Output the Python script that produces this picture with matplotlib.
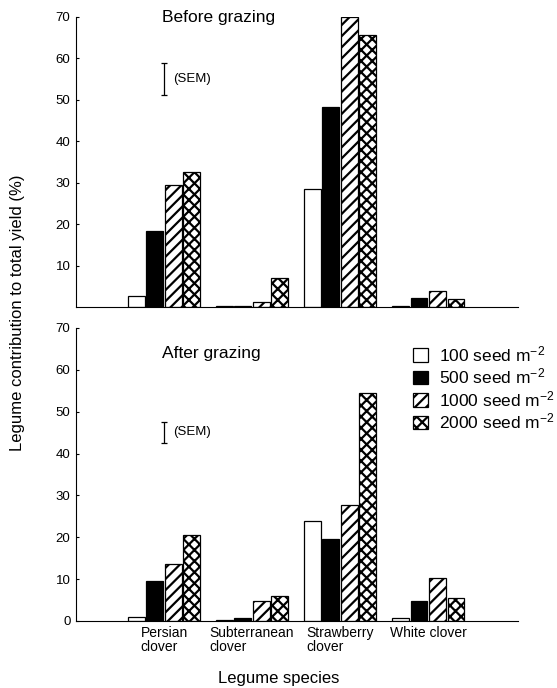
import numpy as np
import matplotlib
matplotlib.use('Agg')
import matplotlib.pyplot as plt

plt.rcParams['font.family'] = ['Liberation Sans', 'DejaVu Sans']
plt.rcParams['mathtext.default'] = 'regular'
plt.rcParams['hatch.linewidth'] = 1.6

species = ['Persian\nclover', 'Subterranean\nclover', 'Strawberry\nclover', 'White clover']
rates = ['100 seed m$^{-2}$', '500 seed m$^{-2}$', '1000 seed m$^{-2}$', '2000 seed m$^{-2}$']

# legume contribution (%) per sowing rate, one list per rate
before_100 = [2.7, 0.2, 28.4, 0.3]
before_500 = [18.4, 0.3, 48.3, 2.1]
before_1000 = [29.4, 1.1, 70.1, 3.9]
before_2000 = [32.5, 7.1, 65.7, 2.0]

after_100 = [0.9, 0.2, 23.8, 0.6]
after_500 = [9.6, 0.8, 19.5, 4.8]
after_1000 = [13.5, 4.8, 27.8, 10.3]
after_2000 = [20.5, 5.9, 54.4, 5.5]

sem_before = (51.2, 58.9)
sem_after = (42.6, 47.6)

colors = ['white', 'black', 'white', 'white']
hatches = [None, None, '///', 'xxx']

fig = plt.figure(figsize=(5.57, 6.88), dpi=100)
ax1 = fig.add_axes([0.1364, 0.5538, 0.7935, 0.4215])
ax2 = fig.add_axes([0.1364, 0.0974, 0.7935, 0.4259])

x = np.arange(len(species))
width = 0.19
step = 0.21

def draw(ax, series, sem, title, title_y):
    for i, vals in enumerate(series):
        ax.bar(x + (i - 1.5) * step, vals, width, color=colors[i], edgecolor='black',
               hatch=hatches[i], linewidth=0.9, label=rates[i])
    ax.set_xlim(-1, 4.02)
    ax.set_ylim(0, 70)
    ax.spines['top'].set_visible(False)
    ax.spines['right'].set_visible(False)
    ax.tick_params(axis='y', direction='in', length=2, labelsize=9.5, pad=4)
    ax.tick_params(axis='x', length=0)
    ax.errorbar([0.0], [np.mean(sem)], yerr=[[np.mean(sem) - sem[0]], [sem[1] - np.mean(sem)]],
                fmt='none', ecolor='black', elinewidth=0.9, capsize=2.5, capthick=0.9)
    ax.text(0.1, np.mean(sem), '(SEM)', fontsize=9.5, va='center', ha='left')
    ax.text(-0.02, title_y, title, fontsize=12.5, va='center', ha='left')

draw(ax1, [before_100, before_500, before_1000, before_2000], sem_before, 'Before grazing', 69.8)
draw(ax2, [after_100, after_500, after_1000, after_2000], sem_after, 'After grazing', 64)

ax1.set_xticks(x)
ax1.set_xticklabels([])
ax1.set_yticks(np.arange(10, 71, 10))
ax2.set_xticks(x)
ax2.set_xticklabels(species, fontsize=10, ma='left', linespacing=1.05)
ax2.set_yticks(np.arange(0, 71, 10))

ax2.legend(loc='upper left', bbox_to_anchor=(0.762, 0.945), frameon=False, fontsize=12.5,
           handlelength=0.9, handleheight=0.8, handletextpad=0.6, labelspacing=0.15,
           borderpad=0, borderaxespad=0)

fig.text(0.032, 0.545, 'Legume contribution to total yield (%)', rotation=90,
         fontsize=12, va='center', ha='center')
fig.text(0.5, 0.003, 'Legume species', fontsize=12, ha='center', va='bottom')

fig.savefig('out.png', dpi=100)
